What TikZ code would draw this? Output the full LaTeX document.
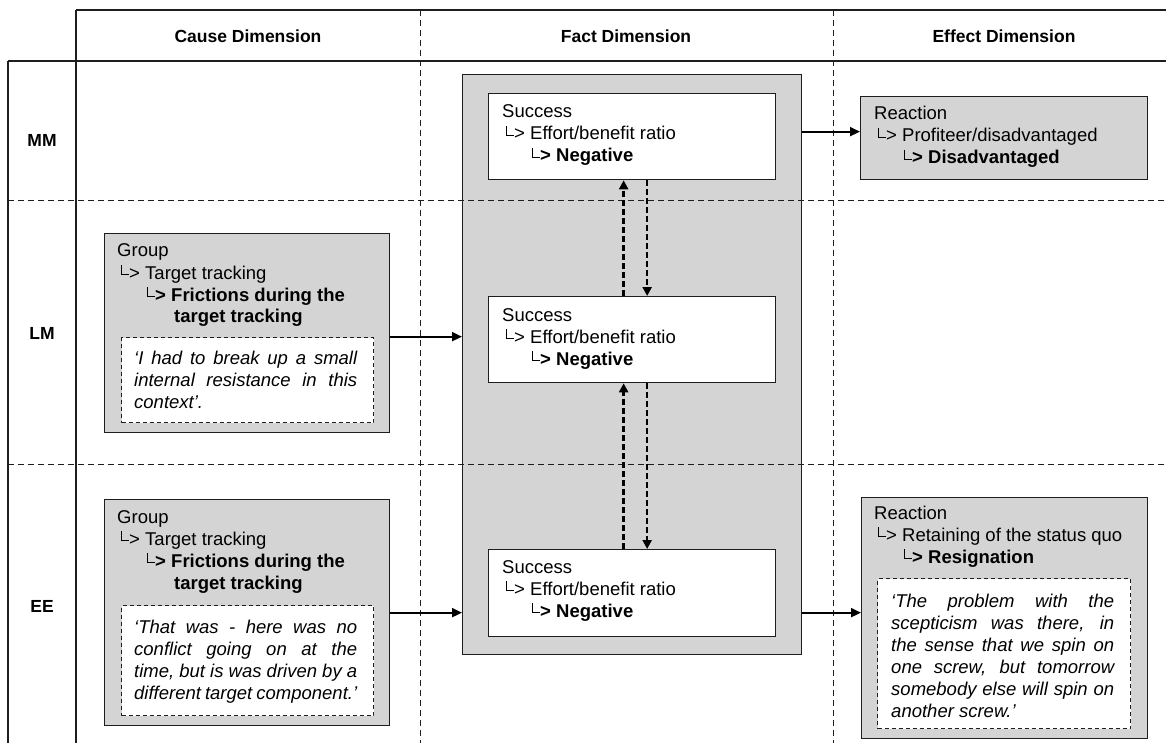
\documentclass[tikz,border=0pt]{standalone}
\usepackage{fontspec}
\setmainfont{Liberation Sans}
\usetikzlibrary{arrows.meta}
\definecolor{boxgray}{RGB}{212,212,212}
\definecolor{inkgray}{RGB}{30,30,30}
% small corner glyph used before sub-levels
\newcommand\corner{\rule[4pt]{0.9pt}{10pt}\rule[4pt]{7pt}{0.9pt}}
\newcommand\lvlone[1]{\hspace*{4pt}\makebox[24pt][l]{\corner>}#1}
\newcommand\lvltwo[1]{\hspace*{30pt}\makebox[24pt][l]{\corner>}#1}
\newcommand\jline[1]{\makebox[223pt][s]{#1}}
\begin{document}
\begin{tikzpicture}[x=1pt,y=-1pt,
  tableline/.style={line width=1.3pt,draw=inkgray},
  griddash/.style={line width=0.9pt,draw=inkgray,dash pattern=on 6pt off 4pt},
  graybox/.style={draw=inkgray,line width=1.3pt,fill=boxgray,anchor=north west,inner sep=0pt},
  whitebox/.style={draw=inkgray,line width=1.3pt,fill=white,anchor=north west,inner sep=0pt},
  quotebox/.style={draw=inkgray,line width=1pt,dash pattern=on 4pt off 3pt,fill=white,anchor=north west,inner sep=0pt},
  txt/.style={anchor=base west,inner sep=0pt,font=\fontsize{18.5}{22}\selectfont},
  qtxt/.style={anchor=base west,inner sep=0pt,font=\fontsize{18.5}{22}\selectfont\itshape},
  headlab/.style={inner sep=0pt,font=\fontsize{17.5}{21}\selectfont\bfseries},
  solidarrow/.style={line width=2pt,draw=black,-{Triangle[length=10pt,width=9pt]}},
  dasharrow/.style={line width=2.6pt,draw=black,dash pattern=on 6pt off 3pt,-{Triangle[length=9pt,width=9pt]}}
]
\useasboundingbox (0,0) rectangle (1166,743);

% fact column container
\node[graybox,minimum width=339,minimum height=580] (fact) at (462,74) {};

% table frame
\draw[tableline] (76,10) -- (1166,10);
\draw[tableline] (8,61) -- (1166,61);
\draw[tableline] (8,61) -- (8,743);
\draw[tableline] (76,10) -- (76,743);
\draw[griddash] (420,10) -- (420,743);
\draw[griddash] (833,10) -- (833,743);
\draw[griddash] (8,200) -- (1166,200);
\draw[griddash] (8,464) -- (1166,464);

% column and row headings
\node[headlab] (hcause) at (248,36) {Cause Dimension};
\node[headlab] (hfact) at (626,36) {Fact Dimension};
\node[headlab] (heffect) at (1004,36) {Effect Dimension};
\node[headlab] (rmm) at (42,140) {MM};
\node[headlab] (rlm) at (42,333) {LM};
\node[headlab] (ree) at (42,606) {EE};

% fact boxes
\node[whitebox,minimum width=287,minimum height=86] (fa) at (488,93) {};
\node[whitebox,minimum width=287,minimum height=86] (fb) at (488,296) {};
\node[whitebox,minimum width=287,minimum height=87] (fc) at (488,549) {};
\node[txt] (fatext) at (502,118) {\begin{tabular}[t]{@{}l@{}}Success\\ \lvlone{Effort/benefit ratio}\\ \bfseries\lvltwo{Negative}\end{tabular}};
\node[txt] (fbtext) at (502,321) {\begin{tabular}[t]{@{}l@{}}Success\\ \lvlone{Effort/benefit ratio}\\ \bfseries\lvltwo{Negative}\end{tabular}};
\node[txt] (fctext) at (502,573) {\begin{tabular}[t]{@{}l@{}}Success\\ \lvlone{Effort/benefit ratio}\\ \bfseries\lvltwo{Negative}\end{tabular}};

% cause boxes
\node[graybox,minimum width=285,minimum height=199] (g1) at (104,233) {};
\node[quotebox,minimum width=252,minimum height=85] (q1) at (121,337) {};
\node[txt] (g1text) at (117,257) {\begin{tabular}[t]{@{}l@{}}Group\\ \lvlone{Target tracking}\\ \bfseries\lvltwo{Frictions during the}\\ \bfseries\hspace*{57pt}target tracking\end{tabular}};
\node[qtxt] (q1text) at (134,364) {\begin{tabular}[t]{@{}l@{}}\jline{‘I had to break up a small}\\ \jline{internal resistance in this}\\ context’.\end{tabular}};

\node[graybox,minimum width=285,minimum height=226] (g2) at (104,499) {};
\node[quotebox,minimum width=252,minimum height=110] (q2) at (121,605) {};
\node[txt] (g2text) at (117,523) {\begin{tabular}[t]{@{}l@{}}Group\\ \lvlone{Target tracking}\\ \bfseries\lvltwo{Frictions during the}\\ \bfseries\hspace*{57pt}target tracking\end{tabular}};
\node[qtxt] (q2text) at (134,633) {\begin{tabular}[t]{@{}l@{}}\jline{‘That was - here was no}\\ \jline{conflict going on at the}\\ \jline{time, but is was driven by a}\\ \jline{different target component.’}\end{tabular}};

% effect boxes
\node[graybox,minimum width=287,minimum height=83] (r1) at (860,96) {};
\node[txt] (r1text) at (874,120) {\begin{tabular}[t]{@{}l@{}}Reaction\\ \lvlone{Profiteer/disadvantaged}\\ \bfseries\lvltwo{Disadvantaged}\end{tabular}};

\node[graybox,minimum width=286,minimum height=241] (r2) at (861,497) {};
\node[quotebox,minimum width=253,minimum height=150] (q3) at (877,578) {};
\node[txt] (r2text) at (874,519) {\begin{tabular}[t]{@{}l@{}}Reaction\\ \lvlone{Retaining of the status quo}\\ \bfseries\lvltwo{Resignation}\end{tabular}};
\node[qtxt] (q3text) at (891,607) {\begin{tabular}[t]{@{}l@{}}\jline{‘The problem with the}\\ \jline{scepticism was there, in}\\ \jline{the sense that we spin on}\\ \jline{one screw,  but tomorrow}\\ \jline{somebody else will spin on}\\ another screw.’\end{tabular}};

% connectors
\coordinate (g1out) at ([yshift=-3.5pt]g1.east);
\coordinate (r1in) at ([yshift=6.5pt]r1.west);
\draw[solidarrow] (g1out) -- (g1out -| fact.west);
\draw[solidarrow] (g2.east) -- (g2.east -| fact.west);
\draw[solidarrow] (g2.east -| fact.east) -- (g2.east -| r2.west);
\draw[solidarrow] (r1in -| fact.east) -- (r1in);
\draw[dasharrow] ([xshift=-8.5pt]fb.north) -- ([xshift=-8.5pt]fa.south);
\draw[dasharrow] ([xshift=15pt]fa.south) -- ([xshift=15pt]fb.north);
\draw[dasharrow] ([xshift=-8.5pt]fc.north) -- ([xshift=-8.5pt]fb.south);
\draw[dasharrow] ([xshift=15pt]fb.south) -- ([xshift=15pt]fc.north);
\end{tikzpicture}
\end{document}
